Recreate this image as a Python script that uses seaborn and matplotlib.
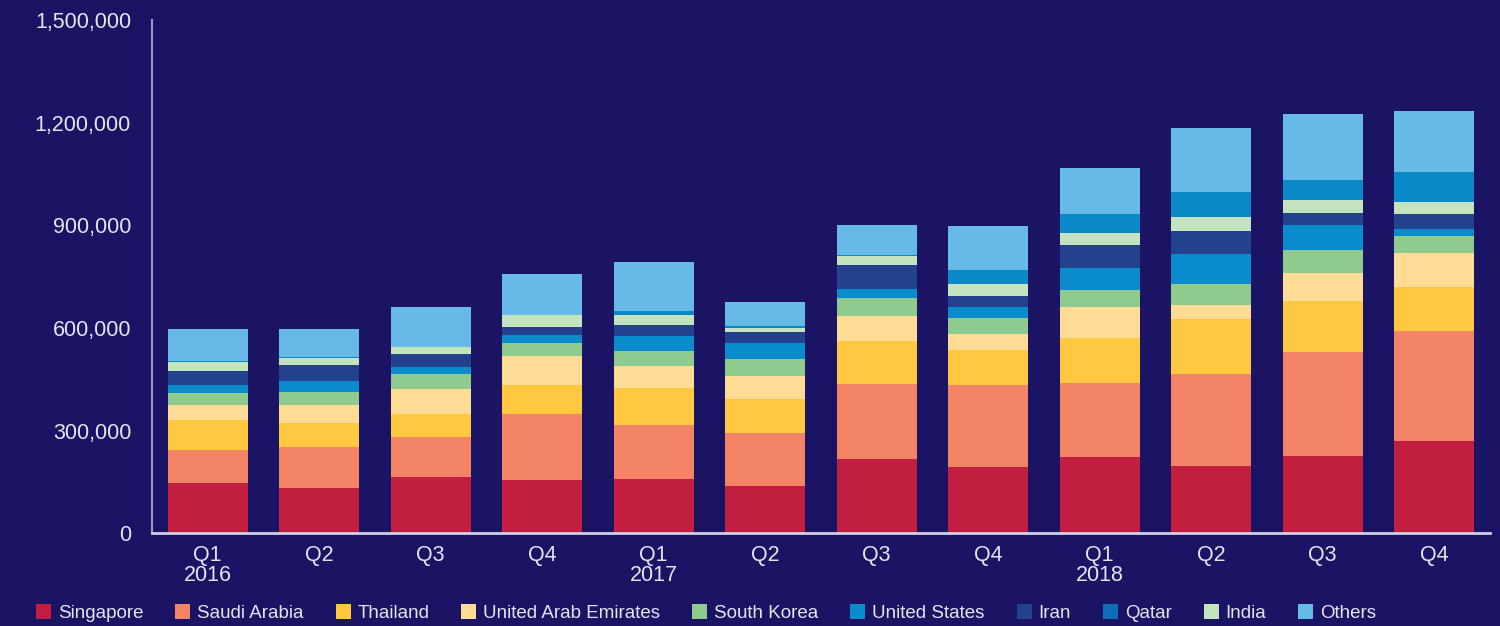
import numpy as np
import pandas as pd
import matplotlib
matplotlib.use("Agg")
import matplotlib.pyplot as plt
from matplotlib.patches import Patch
from matplotlib.ticker import FuncFormatter
import seaborn as sns

# ---- data ----
quarters = ["Q1\n2016", "Q2", "Q3", "Q4", "Q1\n2017", "Q2", "Q3", "Q4", "Q1\n2018", "Q2", "Q3", "Q4"]
singapore = [147000, 133000, 165000, 156000, 159000, 139000, 218000, 194000, 223000, 197000, 226000, 270000]
saudi_arabia = [96000, 120000, 117000, 193000, 158000, 155000, 219000, 240000, 216000, 269000, 304000, 321000]
thailand = [88000, 70000, 67000, 85000, 108000, 99000, 126000, 102000, 131000, 161000, 149000, 129000]
uae = [44000, 53000, 73000, 85000, 64000, 67000, 73000, 47000, 91000, 41000, 82000, 99000]
south_korea = [35000, 38000, 44000, 38000, 44000, 50000, 53000, 47000, 50000, 61000, 67000, 50000]
united_states = [23000, 32000, 20000, 23000, 44000, 47000, 26000, 32000, 64000, 88000, 73000, 20000]
iran = [41000, 47000, 38000, 23000, 32000, 32000, 70000, 32000, 67000, 67000, 35000, 44000]
india = [28000, 20000, 20000, 35000, 29000, 12000, 26000, 35000, 35000, 41000, 38000, 35000]
qatar = [2000, 2000, 0, 0, 12000, 6000, 3000, 41000, 55000, 73000, 58000, 88000]
others = [94000, 83000, 117000, 120000, 143000, 70000, 88000, 129000, 137000, 187000, 193000, 178000]

legend_names = ["Singapore", "Saudi Arabia", "Thailand", "United Arab Emirates", "South Korea",
                "United States", "Iran", "Qatar", "India", "Others"]
# stacking order (bottom to top) as it appears in the bars
stack_names = ["Singapore", "Saudi Arabia", "Thailand", "United Arab Emirates", "South Korea",
               "United States", "Iran", "India", "Qatar", "Others"]
series = {
    "Singapore": singapore, "Saudi Arabia": saudi_arabia, "Thailand": thailand,
    "United Arab Emirates": uae, "South Korea": south_korea, "United States": united_states,
    "Iran": iran, "India": india, "Qatar": qatar, "Others": others,
}
bar_colors = {
    "Singapore": "#C21E40", "Saudi Arabia": "#F48466", "Thailand": "#FEC941",
    "United Arab Emirates": "#FFDC96", "South Korea": "#8FCB8F", "United States": "#0A8BCB",
    "Iran": "#24418E", "India": "#C4E3BF", "Qatar": "#0A89C9", "Others": "#67BAE6",
}
legend_colors = dict(bar_colors)
legend_colors["Qatar"] = "#0A6FB8"

BG = "#1B1464"
TXT = "#E4E4F0"

sns.set_theme(style="white")
plt.rcParams["font.family"] = ["Liberation Sans", "DejaVu Sans"]

fig = plt.figure(figsize=(15, 6.26), dpi=100, facecolor=BG)
ax = fig.add_axes([0.1013, 0.1478, 0.892, 0.8202])
ax.set_facecolor(BG)

xpos = [str(i) for i in range(len(quarters))]
cum = np.zeros(len(quarters))
cums = []
for name in stack_names:
    cum = cum + np.array(series[name], dtype=float)
    cums.append((name, cum.copy()))

# draw cumulative totals from the top layer down so each layer shows its own segment
for name, c in reversed(cums):
    df = pd.DataFrame({"q": xpos, "v": c})
    sns.barplot(data=df, x="q", y="v", color=bar_colors[name], saturation=1,
                width=0.72, ax=ax, linewidth=0, order=xpos)

ax.set_xlim(-0.5, 11.5)
ax.set_ylim(0, 1500000)
ax.set_yticks([0, 300000, 600000, 900000, 1200000, 1500000])
ax.yaxis.set_major_formatter(FuncFormatter(lambda v, p: f"{int(v):,}"))
ax.set_xticks(range(len(quarters)))
ax.set_xticklabels(quarters, linespacing=0.95)
ax.tick_params(axis="y", length=0, pad=15, labelsize=15.5, labelcolor=TXT)
ax.tick_params(axis="x", length=0, pad=8, labelsize=15.5, labelcolor=TXT)
ax.set_xlabel("")
ax.set_ylabel("")

for s in ["top", "right"]:
    ax.spines[s].set_visible(False)
ax.spines["left"].set_color("#9C9ACB")
ax.spines["left"].set_linewidth(1.5)
ax.spines["bottom"].set_color("#D0D0E6")
ax.spines["bottom"].set_linewidth(2)

handles = [Patch(facecolor=legend_colors[n], edgecolor="none") for n in legend_names]
leg = fig.legend(handles, legend_names, loc="center left", bbox_to_anchor=(0.024, 0.021),
                 ncol=10, frameon=False, fontsize=13.5, handlelength=0.8, handleheight=0.86,
                 handletextpad=0.37, columnspacing=1.7, borderaxespad=0, borderpad=0)
for t in leg.get_texts():
    t.set_color(TXT)

fig.savefig("out.png", dpi=100, facecolor=BG)
